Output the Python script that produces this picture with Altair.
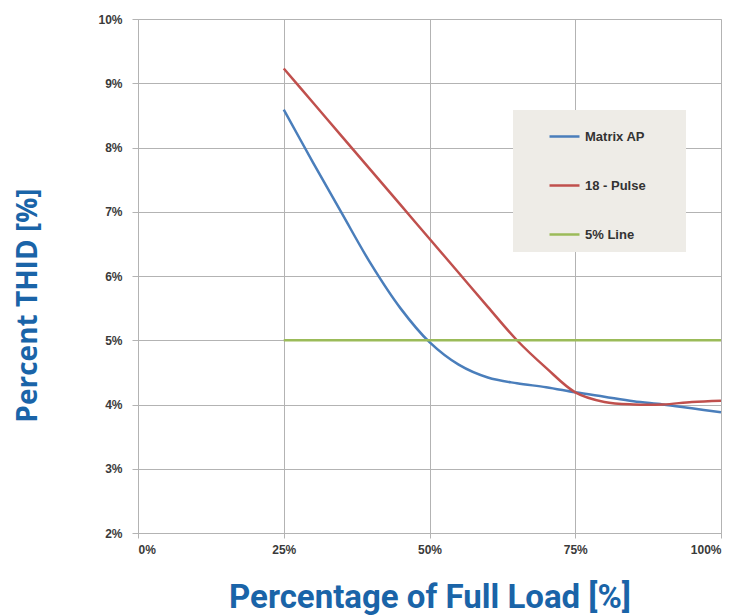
import altair as alt
import pandas as pd

# ---- data ----
load_pct = [25, 30, 35, 40, 45, 50, 55, 60, 65, 70, 75, 80, 85, 90, 95, 100]
matrix_ap = [8.59, 7.77, 6.97, 6.18, 5.5, 4.97, 4.62, 4.42, 4.33, 4.27, 4.19, 4.12, 4.05, 4.0, 3.94, 3.88]
pulse_18 = [9.23, 8.7, 8.17, 7.64, 7.11, 6.58, 6.05, 5.52, 5.0, 4.57, 4.19, 4.04, 4.0, 4.0, 4.04, 4.06]
line5_x = [25, 100]
line5_y = [5.0, 5.0]

series_names = ["Matrix AP", "18 - Pulse", "5% Line"]
series_colors = ["#4a7ebb", "#c0504d", "#9bbb59"]

x_ticks = [0, 25, 50, 75, 100]
y_ticks = [2, 3, 4, 5, 6, 7, 8, 9, 10]

rows = []
for x, y in zip(load_pct, matrix_ap):
    rows.append({"load": x, "thid": y, "series": series_names[0]})
for x, y in zip(load_pct, pulse_18):
    rows.append({"load": x, "thid": y, "series": series_names[1]})
for x, y in zip(line5_x, line5_y):
    rows.append({"load": x, "thid": y, "series": series_names[2]})
df = pd.DataFrame(rows)

TITLE_BLUE = "#1a64a8"
GRID = "#b3b3b3"
LABEL_FONT = "Liberation Sans"

chart = alt.Chart(df).mark_line(strokeWidth=2.5, interpolate="catmull-rom").encode(
    x=alt.X(
        "load:Q",
        scale=alt.Scale(domain=[0, 100], nice=False),
        axis=alt.Axis(
            values=x_ticks,
            labelExpr="datum.value + '%'",
            title="Percentage of Full Load [%]",
            titleFont="Roboto",
            titleFontSize=33,
            titleFontWeight="bold",
            titleColor=TITLE_BLUE,
            titleBaseline="alphabetic",
            titleY=74,
            labelFont=LABEL_FONT,
            labelFontSize=12,
            labelFontWeight="bold",
            labelColor="#3a3a3a",
            labelPadding=6,
            tickSize=5,
            tickColor=GRID,
            domainColor=GRID,
            gridColor=GRID,
        ),
    ),
    y=alt.Y(
        "thid:Q",
        scale=alt.Scale(domain=[2, 10], nice=False),
        axis=alt.Axis(
            values=y_ticks,
            labelExpr="datum.value + '%'",
            title="Percent THID [%]",
            titleFont="Open Sans",
            titleFontSize=28,
            titleFontWeight="bold",
            titleColor=TITLE_BLUE,
            titleX=-110,
            titleY=286,
            titleBaseline="middle",
            titleAlign="center",
            labelFont=LABEL_FONT,
            labelFontSize=12,
            labelFontWeight="bold",
            labelColor="#3a3a3a",
            labelPadding=10,
            tickSize=6,
            tickColor=GRID,
            domainColor=GRID,
            gridColor=GRID,
        ),
    ),
    color=alt.Color(
        "series:N",
        scale=alt.Scale(domain=series_names, range=series_colors),
        legend=alt.Legend(
            orient="none",
            legendX=375,
            legendY=91,
            title=" ",
            titleOrient="right",
            titlePadding=30,
            fillColor="#eeece7",
            padding=10,
            symbolType="stroke",
            symbolSize=900,
            symbolStrokeWidth=2.5,
            symbolOffset=25,
            labelOffset=4,
            rowPadding=25,
            labelFont=LABEL_FONT,
            labelFontSize=13,
            labelFontWeight="bold",
            labelColor="#333333",
        ),
    ),
).properties(
    width=583,
    height=514,
    autosize=alt.AutoSizeParams(type="none"),
    padding={"left": 130, "top": 11, "right": 11, "bottom": 82},
).configure_view(stroke=None).configure(background="white")

chart.save("out.html", embed_options={"renderer": "svg", "actions": False})
